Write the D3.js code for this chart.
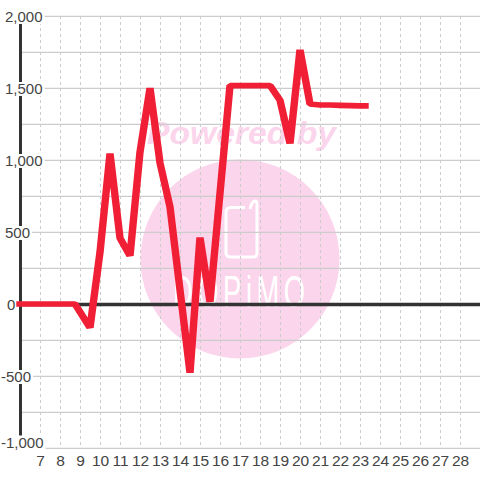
<!DOCTYPE html>
<html>
<head>
<meta charset="utf-8">
<style>
	html, body { margin: 0; padding: 0; background: #fff; }
	svg { display: block; }
	text { font-family: "Liberation Sans", sans-serif; }
</style>
<script src="https://cdn.jsdelivr.net/npm/d3@7"></script>
</head>
<body>
<svg id="chart" width="480" height="480"></svg>
<script>
const hours = [6, 6.5, 7, 7.5, 8, 8.75, 9.5, 10, 10.5, 11, 11.5, 12, 12.5, 13, 13.5, 14, 14.5, 15, 15.5, 16, 16.5, 17, 17.5, 18, 18.5, 19, 19.5, 20, 20.5, 21, 21.5, 22, 22.5, 23, 23.25]
const values = [0, 0, 0, 0, 0, 0, -165, 360, 1045, 458, 335, 1055, 1500, 980, 674, 97, -478, 462, 15, 770, 1517, 1517, 1517, 1517, 1517, 1415, 1115, 1765, 1389, 1382, 1382, 1380, 1378, 1376, 1376]
const xTicks = [7, 8, 9, 10, 11, 12, 13, 14, 15, 16, 17, 18, 19, 20, 21, 22, 23, 24, 25, 26, 27, 28]
const yLabels = [2000, 1500, 1000, 500, 0, -500, -1000]
const yGrid = [2000, 1750, 1500, 1250, 1000, 750, 500, 250, -250, -500, -750, -1000]

const svg = d3.select('#chart')
const width = +svg.attr('width')

const xScale = d3.scaleLinear().domain([6, 29]).range([20, 480])
const yScale = d3.scaleLinear().domain([-1000, 2000]).range([448, 16])

// watermark sits under the grid
const mark = svg.append('g')

mark.append('circle')
	.attr('cx', 240)
	.attr('cy', 259)
	.attr('r', 99.5)
	.attr('fill', '#fbd5ec')

mark.append('path')
	.attr('d', 'M231 207.5 H245 M250 209 Q252 201 255 201 Q257 201 257 204 V253 Q257 257 253 257 H231 Q226 257 226 253 V212 Q226 207.5 231 207.5')
	.attr('fill', 'none')
	.attr('stroke', '#fff')
	.attr('stroke-width', 3)

mark.append('text')
	.attr('transform', 'translate(173, 307) scale(0.62, 1)')
	.attr('textLength', 213)
	.attr('lengthAdjust', 'spacing')
	.style('font-size', '44px')
	.style('fill', '#fff')
	.text('DOPiMO')

mark.append('text')
	.attr('x', 147)
	.attr('y', 144)
	.attr('textLength', 189)
	.attr('lengthAdjust', 'spacingAndGlyphs')
	.style('font-size', '31px')
	.style('font-weight', 'bold')
	.style('font-style', 'italic')
	.style('fill', '#fbd5ec')
	.text('Powered by')

// grid
const grid = svg.append('g')

grid.selectAll('line.v')
	.data(xTicks)
	.enter().append('line')
	.attr('class', 'v')
	.attr('x1', d => xScale(d) + 0.5)
	.attr('x2', d => xScale(d) + 0.5)
	.attr('y1', yScale(2000))
	.attr('y2', yScale(-1000))
	.attr('stroke', '#ccc')
	.attr('stroke-dasharray', '3,3')

grid.selectAll('line.h')
	.data(yGrid)
	.enter().append('line')
	.attr('class', 'h')
	.attr('x1', xScale(6))
	.attr('x2', width)
	.attr('y1', d => yScale(d) + 0.3)
	.attr('y2', d => yScale(d) + 0.3)
	.attr('stroke', '#ccc')
	.attr('stroke-width', 1.3)

// y axis and zero line
svg.append('line')
	.attr('x1', xScale(6) + 0.5)
	.attr('x2', xScale(6) + 0.5)
	.attr('y1', yScale(2000))
	.attr('y2', yScale(-1000))
	.attr('stroke', '#333')
	.attr('stroke-width', 3)

svg.append('line')
	.attr('x1', xScale(6))
	.attr('x2', width)
	.attr('y1', yScale(0) + 0.5)
	.attr('y2', yScale(0) + 0.5)
	.attr('stroke', '#333')
	.attr('stroke-width', 3.3)

// y labels knock a white box out of whatever is behind them
const labelX = d => d < 0 ? 1 : (d === 0 ? 7 : 5)
const labelY = d => Math.min(yScale(d) + 6, 447.5)

const yLabelGroup = svg.append('g')

yLabelGroup.selectAll('text')
	.data(yLabels)
	.enter().append('text')
	.attr('x', labelX)
	.attr('y', labelY)
	.style('font-size', '15px')
	.style('fill', '#444')
	.text(d => d3.format(',')(d).replace('\u2212', '-'))
	.each(function(d) {
		const w = this.getComputedTextLength()
		yLabelGroup.insert('rect', 'text')
			.attr('x', labelX(d))
			.attr('y', labelY(d) - 12)
			.attr('width', w + 2)
			.attr('height', 14)
			.attr('fill', '#fff')
	})

// x axis
const xAxis = d3.axisBottom(xScale)
	.tickValues(xTicks)
	.tickSize(0)
	.tickPadding(0)

const xAxisData = svg.append('g')
	.attr('transform', 'translate(0, 466)')
	.call(xAxis)

xAxisData.select('.domain').remove()

xAxisData.selectAll('text')
	.style('font-size', '15.5px')
	.style('fill', '#444')
	.attr('y', 0)
	.attr('dy', 0)

// series, the stroke in the picture is wider across than it is tall
const stretch = 1.3

const line = d3.line()
	.x((d, i) => xScale(hours[i]) / stretch)
	.y(d => yScale(d))

svg.append('g')
	.attr('transform', `scale(${stretch}, 1)`)
	.append('path')
	.datum(values)
	.attr('d', line)
	.attr('fill', 'none')
	.attr('stroke', '#f01f35')
	.attr('stroke-width', 5.7)
	.attr('stroke-linejoin', 'bevel')
	.attr('stroke-linecap', 'square')
</script>
</body>
</html>
